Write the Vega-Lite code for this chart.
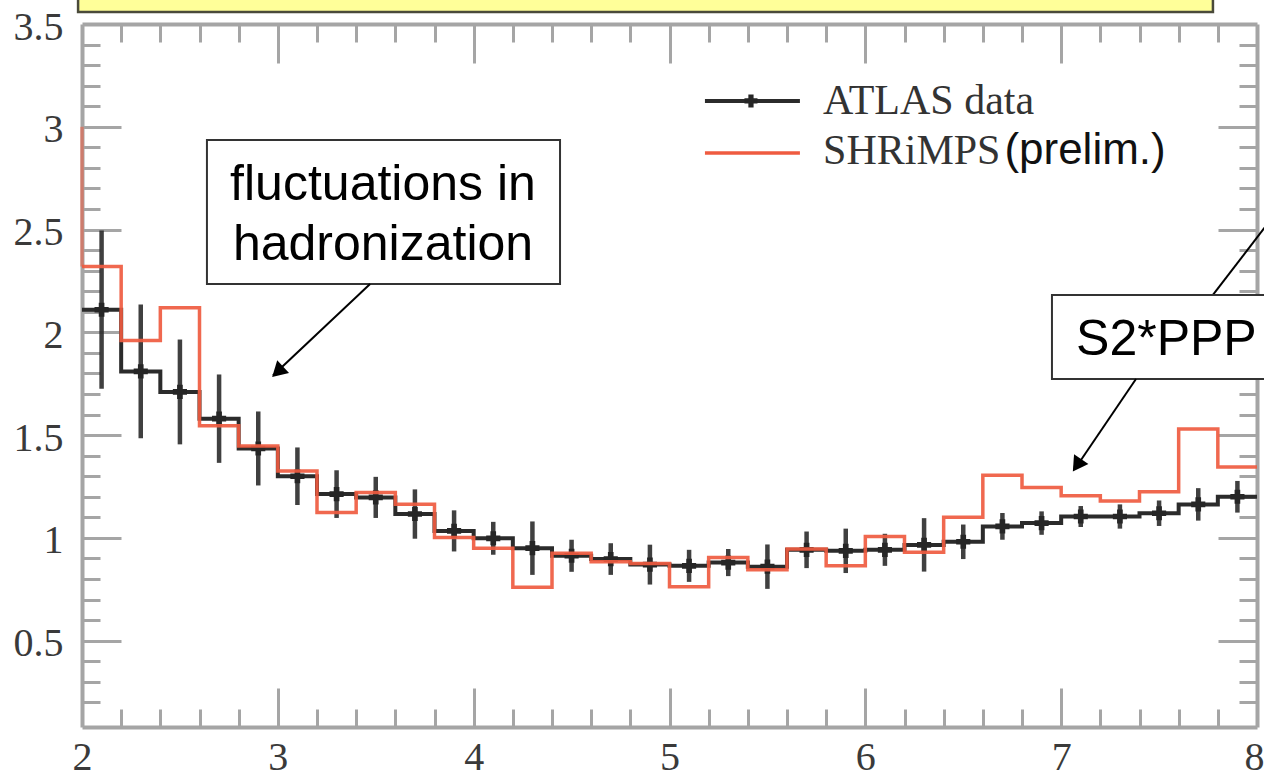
{
  "$schema": "https://vega.github.io/schema/vega-lite/v6.json",
  "width": 1175,
  "height": 703,
  "autosize": {"type": "none"},
  "padding": {"left": 82, "top": 24, "right": 7, "bottom": 57},
  "background": "white",
  "config": {
    "view": {"stroke": null},
    "axis": {
      "grid": false, "title": null,
      "domainColor": "#a5a5a5", "domainWidth": 4,
      "tickColor": "#a5a5a5", "tickWidth": 3,
      "labelFont": "Liberation Serif", "labelFontSize": 40, "labelColor": "#3a3a3a",
      "labelFlush": false, "labelOverlap": false, "labelBound": false
    }
  },
  "resolve": {"axis": {"x": "independent", "y": "independent"}},
  "data": {"values": [
    {"i":0,"lo":2.0,"hi":2.2,"c":2.1,"atlas":2.11,"err":0.385,"shrimps":2.32},
    {"i":1,"lo":2.2,"hi":2.4,"c":2.3,"atlas":1.81,"err":0.325,"shrimps":1.96},
    {"i":2,"lo":2.4,"hi":2.6,"c":2.5,"atlas":1.71,"err":0.255,"shrimps":2.12},
    {"i":3,"lo":2.6,"hi":2.8,"c":2.7,"atlas":1.58,"err":0.215,"shrimps":1.545},
    {"i":4,"lo":2.8,"hi":3.0,"c":2.9,"atlas":1.435,"err":0.18,"shrimps":1.447},
    {"i":5,"lo":3.0,"hi":3.2,"c":3.1,"atlas":1.30,"err":0.14,"shrimps":1.326},
    {"i":6,"lo":3.2,"hi":3.4,"c":3.3,"atlas":1.213,"err":0.116,"shrimps":1.124},
    {"i":7,"lo":3.4,"hi":3.6,"c":3.5,"atlas":1.197,"err":0.10,"shrimps":1.221},
    {"i":8,"lo":3.6,"hi":3.8,"c":3.7,"atlas":1.116,"err":0.12,"shrimps":1.164},
    {"i":9,"lo":3.8,"hi":4.0,"c":3.9,"atlas":1.034,"err":0.10,"shrimps":1.002},
    {"i":10,"lo":4.0,"hi":4.2,"c":4.1,"atlas":0.998,"err":0.08,"shrimps":0.95},
    {"i":11,"lo":4.2,"hi":4.4,"c":4.3,"atlas":0.95,"err":0.13,"shrimps":0.76},
    {"i":12,"lo":4.4,"hi":4.6,"c":4.5,"atlas":0.913,"err":0.078,"shrimps":0.925},
    {"i":13,"lo":4.6,"hi":4.8,"c":4.7,"atlas":0.897,"err":0.077,"shrimps":0.884},
    {"i":14,"lo":4.8,"hi":5.0,"c":4.9,"atlas":0.87,"err":0.097,"shrimps":0.876},
    {"i":15,"lo":5.0,"hi":5.2,"c":5.1,"atlas":0.864,"err":0.078,"shrimps":0.762},
    {"i":16,"lo":5.2,"hi":5.4,"c":5.3,"atlas":0.88,"err":0.066,"shrimps":0.905},
    {"i":17,"lo":5.4,"hi":5.6,"c":5.5,"atlas":0.86,"err":0.108,"shrimps":0.845},
    {"i":18,"lo":5.6,"hi":5.8,"c":5.7,"atlas":0.942,"err":0.089,"shrimps":0.946},
    {"i":19,"lo":5.8,"hi":6.0,"c":5.9,"atlas":0.937,"err":0.108,"shrimps":0.864},
    {"i":20,"lo":6.0,"hi":6.2,"c":6.1,"atlas":0.942,"err":0.078,"shrimps":1.007},
    {"i":21,"lo":6.2,"hi":6.4,"c":6.3,"atlas":0.966,"err":0.13,"shrimps":0.93},
    {"i":22,"lo":6.4,"hi":6.6,"c":6.5,"atlas":0.981,"err":0.084,"shrimps":1.10},
    {"i":23,"lo":6.6,"hi":6.8,"c":6.7,"atlas":1.056,"err":0.065,"shrimps":1.305},
    {"i":24,"lo":6.8,"hi":7.0,"c":6.9,"atlas":1.072,"err":0.057,"shrimps":1.245},
    {"i":25,"lo":7.0,"hi":7.2,"c":7.1,"atlas":1.104,"err":0.051,"shrimps":1.205},
    {"i":26,"lo":7.2,"hi":7.4,"c":7.3,"atlas":1.104,"err":0.059,"shrimps":1.18},
    {"i":27,"lo":7.4,"hi":7.6,"c":7.5,"atlas":1.12,"err":0.062,"shrimps":1.225},
    {"i":28,"lo":7.6,"hi":7.8,"c":7.7,"atlas":1.163,"err":0.079,"shrimps":1.53},
    {"i":29,"lo":7.8,"hi":8.0,"c":7.9,"atlas":1.20,"err":0.077,"shrimps":1.345}
  ]},
  "layer": [
    {
      "data": {"values": [{}]},
      "mark": {"type": "rect", "fill": "#ffff99", "stroke": "#4a4a3a", "strokeWidth": 2.5},
      "encoding": {
        "x": {"datum": 1.98, "type": "quantitative", "scale": {"domain": [2, 8], "nice": false, "zero": false}, "axis": null},
        "x2": {"datum": 7.775},
        "y": {"datum": 3.558, "type": "quantitative", "scale": {"domain": [0.08, 3.5], "nice": false, "zero": false}, "axis": null},
        "y2": {"datum": 3.85}
      }
    },
    {
      "transform": [{"fold": ["lo", "hi"], "as": ["edge", "ex"]}],
      "mark": {"type": "line", "color": "#2b2b2b", "strokeWidth": 4, "clip": true},
      "encoding": {
        "x": {"field": "ex", "type": "quantitative", "scale": {"domain": [2, 8], "nice": false, "zero": false},
              "axis": {"orient": "bottom", "values": [2,3,4,5,6,7,8], "ticks": false, "domain": false, "labelPadding": 10, "format": "~g", "labelBaseline": "top",
                       "labelOffset": {"condition": {"test": "datum.value == 8", "value": -3}, "value": 0}}},
        "y": {"field": "atlas", "type": "quantitative", "scale": {"domain": [0.08, 3.5], "nice": false, "zero": false},
              "axis": {"orient": "left", "values": [0.5,1,1.5,2,2.5,3,3.5], "ticks": false, "domain": false, "labelPadding": 19, "format": "~g", "labelBaseline": "middle", "labelOffset": 3}},
        "order": [{"field": "ex", "type": "quantitative"}, {"field": "i", "type": "quantitative"}]
      }
    },
    {
      "mark": {"type": "errorbar", "color": "#2b2b2b", "thickness": 4.5, "opacity": 0.9},
      "encoding": {
        "x": {"field": "c", "type": "quantitative", "scale": {"domain": [2, 8], "nice": false, "zero": false}, "axis": null},
        "y": {"field": "atlas", "type": "quantitative", "scale": {"domain": [0.08, 3.5], "nice": false, "zero": false}, "axis": null},
        "yError": {"field": "err"}
      }
    },
    {
      "mark": {"type": "point", "shape": "cross", "filled": true, "size": 200, "color": "#262626", "opacity": 1},
      "encoding": {
        "x": {"field": "c", "type": "quantitative", "scale": {"domain": [2, 8], "nice": false, "zero": false},
              "axis": {"orient": "bottom", "values": [3,4,5,6,7], "tickSize": -39, "labels": false, "domain": true}},
        "y": {"field": "atlas", "type": "quantitative", "scale": {"domain": [0.08, 3.5], "nice": false, "zero": false},
              "axis": {"orient": "left", "values": [0.5,1,1.5,2,2.5,3], "tickSize": -39, "labels": false, "domain": true}}
      }
    },
    {
      "transform": [{"fold": ["lo", "hi"], "as": ["edge", "ex"]}],
      "mark": {"type": "line", "color": "#ef5b40", "strokeWidth": 3.5, "clip": true, "opacity": 0.92},
      "encoding": {
        "x": {"field": "ex", "type": "quantitative", "scale": {"domain": [2, 8], "nice": false, "zero": false},
              "axis": {"orient": "bottom", "values": [2.2,2.4,2.6,2.8,3.2,3.4,3.6,3.8,4.2,4.4,4.6,4.8,5.2,5.4,5.6,5.8,6.2,6.4,6.6,6.8,7.2,7.4,7.6,7.8], "tickSize": -18, "labels": false, "domain": false}},
        "y": {"field": "shrimps", "type": "quantitative", "scale": {"domain": [0.08, 3.5], "nice": false, "zero": false},
              "axis": {"orient": "left", "values": [0.2,0.3,0.4,0.6,0.7,0.8,0.9,1.1,1.2,1.3,1.4,1.6,1.7,1.8,1.9,2.1,2.2,2.3,2.4,2.6,2.7,2.8,2.9,3.1,3.2,3.3,3.4], "tickSize": -18, "labels": false, "domain": false}},
        "order": [{"field": "ex", "type": "quantitative"}, {"field": "i", "type": "quantitative"}]
      }
    },
    {
      "data": {"values": [{}]},
      "mark": {"type": "rule", "color": "#ef5b40", "strokeWidth": 3.5, "opacity": 0.55},
      "encoding": {
        "x": {"datum": 2, "type": "quantitative", "scale": {"domain": [2, 8], "nice": false, "zero": false},
              "axis": {"orient": "top", "values": [3,4,5,6,7], "tickSize": -39, "labels": false, "domain": true}},
        "y": {"datum": 2.32, "type": "quantitative", "scale": {"domain": [0.08, 3.5], "nice": false, "zero": false},
              "axis": {"orient": "right", "values": [0.5,1,1.5,2,2.5,3], "tickSize": -39, "labels": false, "domain": true}},
        "y2": {"datum": 3.0}
      }
    },
    {
      "data": {"values": [{}]},
      "mark": {"type": "rule", "color": "#2b2b2b", "strokeWidth": 4},
      "encoding": {
        "x": {"datum": 5.181, "type": "quantitative", "scale": {"domain": [2, 8], "nice": false, "zero": false},
              "axis": {"orient": "top", "values": [2.2,2.4,2.6,2.8,3.2,3.4,3.6,3.8,4.2,4.4,4.6,4.8,5.2,5.4,5.6,5.8,6.2,6.4,6.6,6.8,7.2,7.4,7.6,7.8], "tickSize": -18, "labels": false, "domain": false}},
        "x2": {"datum": 5.666},
        "y": {"datum": 3.1255, "type": "quantitative", "scale": {"domain": [0.08, 3.5], "nice": false, "zero": false},
              "axis": {"orient": "right", "values": [0.2,0.3,0.4,0.6,0.7,0.8,0.9,1.1,1.2,1.3,1.4,1.6,1.7,1.8,1.9,2.1,2.2,2.3,2.4,2.6,2.7,2.8,2.9,3.1,3.2,3.3,3.4], "tickSize": -18, "labels": false, "domain": false}}
      }
    },
    {
      "data": {"values": [{}]},
      "mark": {"type": "point", "shape": "cross", "filled": true, "size": 170, "color": "#262626", "opacity": 1},
      "encoding": {
        "x": {"datum": 5.416, "type": "quantitative", "scale": {"domain": [2, 8], "nice": false, "zero": false}, "axis": null},
        "y": {"datum": 3.1255, "type": "quantitative", "scale": {"domain": [0.08, 3.5], "nice": false, "zero": false}, "axis": null}
      }
    },
    {
      "data": {"values": [{}]},
      "mark": {"type": "rule", "color": "#ef5b40", "strokeWidth": 3.5},
      "encoding": {
        "x": {"datum": 5.181, "type": "quantitative", "scale": {"domain": [2, 8], "nice": false, "zero": false}, "axis": null},
        "x2": {"datum": 5.666},
        "y": {"datum": 2.873, "type": "quantitative", "scale": {"domain": [0.08, 3.5], "nice": false, "zero": false}, "axis": null}
      }
    },
    {
      "data": {"values": [{"t": "ATLAS data", "y": 3.062}, {"t": "SHRiMPS", "y": 2.819}]},
      "mark": {"type": "text", "font": "Liberation Serif", "fontSize": 42, "color": "#333333", "align": "left", "baseline": "alphabetic"},
      "encoding": {
        "x": {"datum": 5.784, "type": "quantitative", "scale": {"domain": [2, 8], "nice": false, "zero": false}, "axis": null},
        "y": {"field": "y", "type": "quantitative", "scale": {"domain": [0.08, 3.5], "nice": false, "zero": false}, "axis": null},
        "text": {"field": "t"}
      }
    },
    {
      "data": {"values": [{}]},
      "mark": {"type": "text", "font": "Liberation Sans", "fontSize": 44, "color": "#111111", "align": "left", "baseline": "alphabetic", "text": "(prelim.)"},
      "encoding": {
        "x": {"datum": 6.71, "type": "quantitative", "scale": {"domain": [2, 8], "nice": false, "zero": false}, "axis": null},
        "y": {"datum": 2.819, "type": "quantitative", "scale": {"domain": [0.08, 3.5], "nice": false, "zero": false}, "axis": null}
      }
    },
    {
      "data": {"values": [{}]},
      "mark": {"type": "rect", "fill": "white", "stroke": "#333333", "strokeWidth": 2},
      "encoding": {
        "x": {"datum": 2.638, "type": "quantitative", "scale": {"domain": [2, 8], "nice": false, "zero": false}, "axis": null},
        "x2": {"datum": 4.441},
        "y": {"datum": 2.936, "type": "quantitative", "scale": {"domain": [0.08, 3.5], "nice": false, "zero": false}, "axis": null},
        "y2": {"datum": 2.235}
      }
    },
    {
      "data": {"values": [{}]},
      "mark": {"type": "text", "font": "Liberation Sans", "fontSize": 50, "color": "#000000", "align": "center", "baseline": "alphabetic", "lineHeight": 60, "text": ["fluctuations in", "hadronization"]},
      "encoding": {
        "x": {"datum": 3.537, "type": "quantitative", "scale": {"domain": [2, 8], "nice": false, "zero": false}, "axis": null},
        "y": {"datum": 2.644, "type": "quantitative", "scale": {"domain": [0.08, 3.5], "nice": false, "zero": false}, "axis": null}
      }
    },
    {
      "data": {"values": [{}]},
      "mark": {"type": "rule", "color": "#000000", "strokeWidth": 2},
      "encoding": {
        "x": {"datum": 3.471, "type": "quantitative", "scale": {"domain": [2, 8], "nice": false, "zero": false}, "axis": null},
        "x2": {"datum": 2.975},
        "y": {"datum": 2.235, "type": "quantitative", "scale": {"domain": [0.08, 3.5], "nice": false, "zero": false}, "axis": null},
        "y2": {"datum": 1.79}
      }
    },
    {
      "data": {"values": [{}]},
      "mark": {"type": "point", "shape": "triangle-up", "filled": true, "size": 300, "color": "#000000", "opacity": 1, "angle": 227},
      "encoding": {
        "x": {"datum": 2.999, "type": "quantitative", "scale": {"domain": [2, 8], "nice": false, "zero": false}, "axis": null},
        "y": {"datum": 1.808, "type": "quantitative", "scale": {"domain": [0.08, 3.5], "nice": false, "zero": false}, "axis": null}
      }
    },
    {
      "data": {"values": [{}]},
      "mark": {"type": "rule", "color": "#000000", "strokeWidth": 2},
      "encoding": {
        "x": {"datum": 7.775, "type": "quantitative", "scale": {"domain": [2, 8], "nice": false, "zero": false}, "axis": null},
        "x2": {"datum": 8.046},
        "y": {"datum": 2.182, "type": "quantitative", "scale": {"domain": [0.08, 3.5], "nice": false, "zero": false}, "axis": null},
        "y2": {"datum": 2.518}
      }
    },
    {
      "data": {"values": [{}]},
      "mark": {"type": "rect", "fill": "white", "stroke": "#333333", "strokeWidth": 2},
      "encoding": {
        "x": {"datum": 6.953, "type": "quantitative", "scale": {"domain": [2, 8], "nice": false, "zero": false}, "axis": null},
        "x2": {"datum": 8.092},
        "y": {"datum": 2.182, "type": "quantitative", "scale": {"domain": [0.08, 3.5], "nice": false, "zero": false}, "axis": null},
        "y2": {"datum": 1.773}
      }
    },
    {
      "data": {"values": [{}]},
      "mark": {"type": "text", "font": "Liberation Sans", "fontSize": 50, "color": "#000000", "align": "left", "baseline": "alphabetic", "text": "S2*PPP"},
      "encoding": {
        "x": {"datum": 7.076, "type": "quantitative", "scale": {"domain": [2, 8], "nice": false, "zero": false}, "axis": null},
        "y": {"datum": 1.89, "type": "quantitative", "scale": {"domain": [0.08, 3.5], "nice": false, "zero": false}, "axis": null}
      }
    },
    {
      "data": {"values": [{}]},
      "mark": {"type": "rule", "color": "#000000", "strokeWidth": 2},
      "encoding": {
        "x": {"datum": 7.382, "type": "quantitative", "scale": {"domain": [2, 8], "nice": false, "zero": false}, "axis": null},
        "x2": {"datum": 7.07},
        "y": {"datum": 1.773, "type": "quantitative", "scale": {"domain": [0.08, 3.5], "nice": false, "zero": false}, "axis": null},
        "y2": {"datum": 1.335}
      }
    },
    {
      "data": {"values": [{}]},
      "mark": {"type": "point", "shape": "triangle-up", "filled": true, "size": 300, "color": "#000000", "opacity": 1, "angle": 214},
      "encoding": {
        "x": {"datum": 7.081, "type": "quantitative", "scale": {"domain": [2, 8], "nice": false, "zero": false}, "axis": null},
        "y": {"datum": 1.353, "type": "quantitative", "scale": {"domain": [0.08, 3.5], "nice": false, "zero": false}, "axis": null}
      }
    }
  ]
}
